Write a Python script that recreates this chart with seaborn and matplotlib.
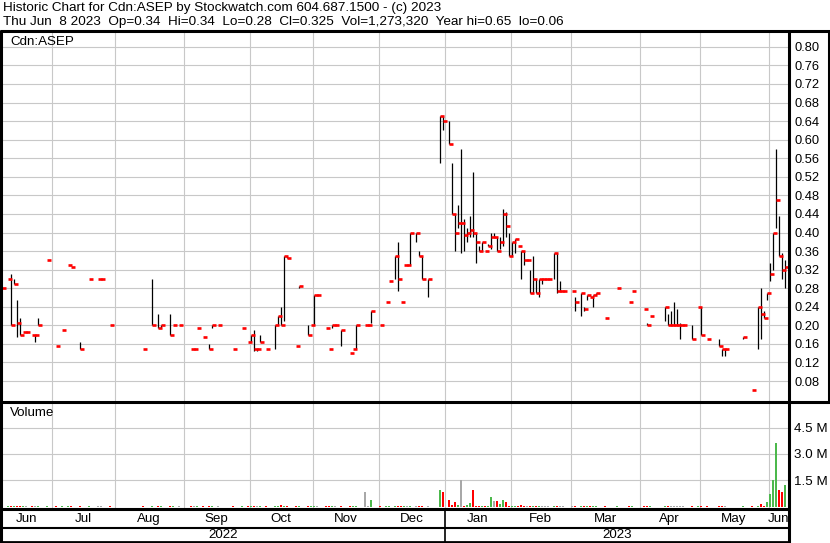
import numpy as np
import pandas as pd
import matplotlib
matplotlib.use("Agg")
import matplotlib.pyplot as plt
from matplotlib.lines import Line2D
import seaborn as sns

# ---------------- data ----------------
dates = [
    "2022-06-08", "2022-06-10", "2022-06-13", "2022-06-14", "2022-06-15", "2022-06-16", "2022-06-17",
    "2022-06-20", "2022-06-22", "2022-06-23", "2022-06-24", "2022-06-29", "2022-07-04", "2022-07-06",
    "2022-07-08", "2022-07-11", "2022-07-14", "2022-07-19", "2022-07-22", "2022-07-25", "2022-07-28",
    "2022-08-12", "2022-08-17", "2022-08-19", "2022-08-22", "2022-08-25", "2022-08-26", "2022-08-30",
    "2022-09-05", "2022-09-06", "2022-09-07", "2022-09-09", "2022-09-13", "2022-09-14", "2022-09-16",
    "2022-09-23", "2022-09-28", "2022-09-30", "2022-10-03", "2022-10-04", "2022-10-05", "2022-10-06",
    "2022-10-10", "2022-10-13", "2022-10-14", "2022-10-17", "2022-10-18", "2022-10-19", "2022-10-24",
    "2022-10-25", "2022-10-28", "2022-10-31", "2022-11-01", "2022-11-02", "2022-11-07", "2022-11-08",
    "2022-11-09", "2022-11-10", "2022-11-14", "2022-11-17", "2022-11-18", "2022-11-21", "2022-11-24",
    "2022-11-25", "2022-11-28", "2022-12-01", "2022-12-05", "2022-12-06", "2022-12-08", "2022-12-09",
    "2022-12-12", "2022-12-13", "2022-12-14", "2022-12-15", "2022-12-19", "2022-12-20", "2022-12-21",
    "2022-12-23", "2022-12-29", "2022-12-30", "2023-01-03", "2023-01-04", "2023-01-05", "2023-01-06",
    "2023-01-09", "2023-01-10", "2023-01-11", "2023-01-12", "2023-01-13", "2023-01-16", "2023-01-17",
    "2023-01-18", "2023-01-19", "2023-01-20", "2023-01-23", "2023-01-24", "2023-01-25", "2023-01-26",
    "2023-01-27", "2023-01-30", "2023-01-31", "2023-02-01", "2023-02-02", "2023-02-03", "2023-02-06",
    "2023-02-07", "2023-02-08", "2023-02-09", "2023-02-10", "2023-02-13", "2023-02-14", "2023-02-15",
    "2023-02-16", "2023-02-17", "2023-02-21", "2023-02-22", "2023-02-23", "2023-02-24", "2023-03-01",
    "2023-03-02", "2023-03-06", "2023-03-07", "2023-03-08", "2023-03-09", "2023-03-10", "2023-03-13",
    "2023-03-16", "2023-03-22", "2023-03-28", "2023-03-29", "2023-04-04", "2023-04-05", "2023-04-06",
    "2023-04-13", "2023-04-14", "2023-04-17", "2023-04-18", "2023-04-19", "2023-04-20", "2023-04-21",
    "2023-04-26", "2023-04-28", "2023-05-01", "2023-05-03", "2023-05-09", "2023-05-10", "2023-05-11",
    "2023-05-19", "2023-05-24", "2023-05-26", "2023-05-29", "2023-05-30", "2023-05-31", "2023-06-01",
    "2023-06-02", "2023-06-05", "2023-06-06", "2023-06-07", "2023-06-08",
]
high = [
    .28, .30, .31, .30, .255, .215, .185, .185, .18, .18, .215, .34, .155, .19, .33, .325, .165, .30, .30, .30, .20,
    .15, .30, .225, .20, .225, .20, .20, .15, .15, .195, .175, .16, .20, .20, .15, .195, .165, .18, .19, .15, .18,
    .15, .20, .22, .24, .35, .35, .155, .285, .20, .20, .265, .265, .195, .15, .20, .20, .19, .14, .15, .20, .20,
    .20, .23, .20, .25, .295, .35, .38, .25, .33, .33, .40, .40, .36, .35, .30, .65, .65, .64, .55, .44, .46,
    .58, .43, .41, .435, .53, .40, .37, .38, .36, .375, .40, .40, .39, .39, .45, .445, .40, .38, .385, .37, .36,
    .36, .34, .32, .35, .30, .30, .30, .30, .30, .355, .355, .295, .275, .275, .26, .27, .24, .265, .26, .265, .27,
    .215, .28, .25, .275, .235, .205, .22, .24, .225, .23, .25, .235, .205, .20, .20, .24, .24, .17, .17, .15, .15,
    .175, .06, .24, .28, .23, .27, .335, .40, .58, .435, .355, .34,
]
low = [
    .28, .30, .20, .29, .175, .18, .185, .185, .18, .165, .20, .34, .155, .19, .33, .325, .15, .30, .30, .30, .20,
    .15, .20, .195, .195, .18, .20, .20, .15, .15, .195, .175, .15, .195, .20, .15, .195, .165, .165, .145, .145, .165,
    .15, .15, .20, .20, .21, .345, .155, .28, .18, .20, .20, .265, .195, .15, .195, .20, .155, .14, .15, .15, .20,
    .20, .205, .20, .25, .295, .30, .275, .25, .33, .33, .33, .38, .35, .30, .26, .55, .62, .59, .44, .36, .41,
    .355, .36, .38, .39, .39, .335, .36, .36, .36, .37, .365, .39, .36, .365, .37, .39, .35, .35, .355, .37, .30,
    .33, .34, .27, .27, .27, .26, .29, .30, .30, .30, .27, .275, .275, .275, .23, .22, .23, .255, .26, .24, .265,
    .215, .28, .25, .275, .235, .20, .22, .21, .20, .20, .20, .20, .17, .20, .17, .24, .18, .17, .155, .135, .135,
    .17, .06, .15, .17, .215, .255, .295, .32, .41, .35, .30, .28,
]
close = [
    .28, .30, .20, .29, .205, .18, .185, .185, .18, .18, .20, .34, .155, .19, .33, .325, .15, .30, .30, .30, .20,
    .15, .20, .195, .20, .18, .20, .20, .15, .15, .195, .175, .15, .20, .20, .15, .195, .165, .18, .15, .15, .165,
    .15, .20, .22, .20, .35, .345, .155, .285, .18, .20, .265, .265, .195, .15, .20, .20, .19, .14, .15, .20, .20,
    .20, .23, .20, .25, .295, .35, .30, .25, .33, .33, .40, .40, .35, .30, .30, .65, .64, .59, .44, .40, .42,
    .42, .395, .40, .405, .40, .38, .36, .38, .36, .37, .39, .39, .36, .38, .44, .415, .35, .38, .385, .37, .36,
    .34, .34, .27, .30, .27, .30, .30, .30, .30, .355, .275, .275, .275, .275, .25, .27, .235, .265, .26, .265, .27,
    .215, .28, .25, .275, .235, .20, .22, .24, .20, .20, .20, .20, .20, .20, .17, .24, .18, .17, .155, .15, .15,
    .175, .06, .24, .225, .215, .27, .31, .40, .47, .35, .32, .325,
]
volume_m = [
    .03, .03, .04, .03, .04, .03, .03, .03, .03, .03, .03, .03, .03, .03, .03, .03, .03, .03, .03, .03, .03,
    .03, .08, .03, .03, .06, .03, .03, .06, .03, .03, .03, .03, .03, .03, .03, .03, .03, .03, .03, .03, .03,
    .03, .08, .08, .13, .04, .03, .03, .03, .03, .03, .03, .03, .03, .03, .03, .03, .03, .03, .06, .03, .87,
    .08, .40, .03, .03, .03, .03, .03, .03, .03, .03, .03, .03, .03, .03, .03, .98, .83, .40, .12, .29, .12,
    1.50, .06, .12, .23, .98, .06, .06, .06, .03, .03, .58, .35, .35, .17, .40, .29, .06, .08, .08, .03, .12,
    .03, .03, .03, .08, .03, .04, .04, .03, .03, .05, .03, .03, .03, .03, .04, .08, .03, .03, .03, .03, .03,
    .03, .03, .03, .03, .03, .03, .03, .03, .03, .03, .06, .04, .04, .03, .03, .03, .03, .04, .03, .03, .03,
    .03, .03, .03, .17, .03, .29, .75, 1.50, 3.63, .98, .87, 1.27,
]
price_ticks = [0.08, 0.12, 0.16, 0.20, 0.24, 0.28, 0.32, 0.36, 0.40, 0.44, 0.48, 0.52, 0.56, 0.60, 0.64, 0.68, 0.72, 0.76, 0.80]
volume_ticks = [1.5, 3.0, 4.5]
volume_tick_labels = ["1.5 M", "3.0 M", "4.5 M"]
month_starts = ["2022-07-01", "2022-08-01", "2022-09-01", "2022-10-01", "2022-11-01", "2022-12-01",
                "2023-01-01", "2023-02-01", "2023-03-01", "2023-04-01", "2023-05-01", "2023-06-01"]
segment_months = ["Jun", "Jul", "Aug", "Sep", "Oct", "Nov", "Dec", "Jan", "Feb", "Mar", "Apr", "May", "Jun"]
years = ["2022", "2023"]
header1 = "Historic Chart for Cdn:ASEP by Stockwatch.com 604.687.1500 - (c) 2023"
header2 = "Thu Jun  8 2023  Op=0.34  Hi=0.34  Lo=0.28  Cl=0.325  Vol=1,273,320  Year hi=0.65  lo=0.06"

# ---------------- setup ----------------
sns.set_theme(style="white")
plt.rcParams["font.family"] = ["Liberation Sans", "DejaVu Sans"]

W, H = 830, 543
fig = plt.figure(figsize=(W / 100, H / 100), dpi=100)
fig.patch.set_facecolor("white")

start = np.datetime64("2022-06-08")
xi = np.array([np.busday_count(start, np.datetime64(d)) for d in dates], dtype=float)
hi = np.array(high); lo = np.array(low); cl = np.array(close)
vol = np.array(volume_m)

grid_x = np.array([np.busday_count(start, np.busday_offset(np.datetime64(m), 0, roll="forward"))
                   for m in month_starts], dtype=float) - 0.5
XL = (-1 / 3, 262 + 1 / 3)   # 788 px / 262.667 sessions = 3 px per session

def fx(px):
    return px / W

def fy(py):
    return 1 - py / H

GRID = "#c8c8c8"
FS = 9.6

ax_p = fig.add_axes([fx(1), fy(401), 788 / W, (401 - 32) / H])
ax_v = fig.add_axes([fx(1), fy(508), 788 / W, (508 - 403) / H])
ax_m = fig.add_axes([fx(1), fy(542), 788 / W, (542 - 509) / H])

# ---------------- price panel ----------------
rng = hi > lo
ax_p.vlines(xi[rng], lo[rng], hi[rng], color="black", lw=0.9, zorder=3)
ax_p.hlines(cl, xi, xi + 1.2, color="#ff0000", lw=1.9, zorder=4)
ax_p.set_xlim(*XL)
ax_p.set_ylim(0.037, 0.832)
ax_p.set_yticks(price_ticks)
ax_p.set_yticklabels([f"{t:.2f}" for t in price_ticks])
ax_p.set_xticks(grid_x)
ax_p.grid(True, color=GRID, lw=0.8)
ax_p.set_axisbelow(True)
ax_p.tick_params(axis="both", length=0, labelsize=9.3, labelleft=False, labelright=True,
                 labelbottom=False, pad=4.3, labelcolor="black")
for s in ax_p.spines.values():
    s.set_visible(False)
fig.text(fx(10), fy(42), "Cdn:ASEP", fontsize=FS, va="center", ha="left", color="black")

# ---------------- volume panel ----------------
prev = np.concatenate([[cl[0]], cl[:-1]])
direction = np.where(cl > prev + 1e-9, "up", np.where(cl < prev - 1e-9, "down", "flat"))
df = pd.DataFrame({"x": xi, "vol": vol, "dir": direction})
pal = {"up": "#4cb84c", "down": "#ff0000", "flat": "#a8a8a8"}
sns.barplot(data=df, x="x", y="vol", hue="dir", palette=pal, native_scale=True, dodge=False,
            width=2 / 3, legend=False, errorbar=None, saturation=1, ax=ax_v, zorder=3,
            linewidth=0, edgecolor="none")
# volume bars exactly 2 px wide, centred on their session
for p in ax_v.patches:
    c = p.get_x() + p.get_width() / 2
    p.set_width(2 / 3)
    p.set_x(c - 1 / 3)
    p.set_antialiased(False)
ax_v.set_xlim(*XL)
ax_v.set_ylim(-0.06, 5.89)
ax_v.set_yticks(volume_ticks)
ax_v.set_yticklabels(volume_tick_labels)
ax_v.set_xticks(grid_x)
ax_v.set_xlabel(""); ax_v.set_ylabel("")
ax_v.grid(True, color=GRID, lw=0.8)
ax_v.set_axisbelow(True)
ax_v.tick_params(axis="both", length=0, labelsize=FS, labelleft=False, labelright=True,
                 labelbottom=False, pad=3.6, labelcolor="black")
for s in ax_v.spines.values():
    s.set_visible(False)
fig.text(fx(10), fy(413), "Volume", fontsize=FS, va="center", ha="left", color="black")

# ---------------- month / year rows ----------------
ax_m.set_xlim(*XL)
ax_m.set_ylim(0, 1)
ax_m.axis("off")
bounds = np.concatenate([[XL[0]], grid_x, [XL[1]]])
for name, a, b in zip(segment_months, bounds[:-1], bounds[1:]):
    ax_m.text((a + b) / 2, 0.70, name, ha="center", va="center", fontsize=FS, color="black", clip_on=True)
jan = grid_x[6]
ax_m.text((XL[0] + jan) / 2, 0.20, years[0], ha="center", va="center", fontsize=FS, color="black")
ax_m.text((jan + XL[1]) / 2, 0.20, years[1], ha="center", va="center", fontsize=FS, color="black")
ax_m.vlines([jan], 0, 1, color="black", lw=1.2)

# ---------------- frame ----------------
def hline(y, x0, x1, lw):
    fig.add_artist(Line2D([fx(x0), fx(x1)], [fy(y), fy(y)], color="black", lw=lw,
                          transform=fig.transFigure, solid_capstyle="butt"))

def vline(x, y0, y1, lw):
    fig.add_artist(Line2D([fx(x), fx(x)], [fy(y0), fy(y1)], color="black", lw=lw,
                          transform=fig.transFigure, solid_capstyle="butt"))

hline(31, 0, W, 2.2)
hline(402, 0, W, 2.2)
hline(509, 0, 790, 2.2)
hline(527.5, 0, 790, 1.5)
hline(541.5, 0, 790, 2.0)
vline(1, 30, 543, 2.2)
vline(789, 30, 543, 2.2)
vline(828.5, 30, 403, 2.2)

fig.text(fx(3), fy(8), header1, fontsize=9.7, va="center", ha="left", color="black")
fig.text(fx(3), fy(22), header2, fontsize=9.7, va="center", ha="left", color="black")

fig.savefig("out.png", dpi=100, facecolor="white")
